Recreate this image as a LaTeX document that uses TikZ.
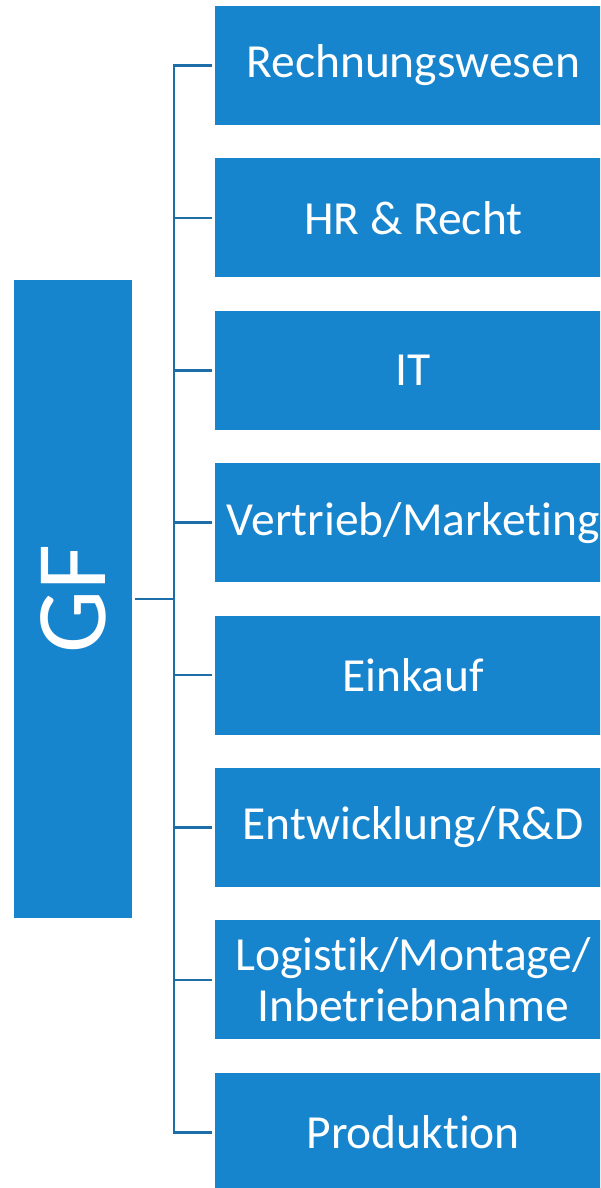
\documentclass[tikz,border=0pt]{standalone}
\usepackage{fontspec}
\setmainfont{Carlito}[Ligatures=NoCommon]
\usetikzlibrary{positioning}
\definecolor{orgblue}{HTML}{1784CE}
\definecolor{orgline}{HTML}{1C6DA8}

\begin{document}
\begin{tikzpicture}[x=1pt,y=1pt,
  unit/.style={fill=orgblue,text=white,font=\fontsize{47.5}{51}\selectfont,
    minimum width=396pt,minimum height=119pt,inner sep=0pt,
    align=center,anchor=west},
  head/.style={fill=orgblue,text=white,font=\fontsize{100}{110}\selectfont,
    minimum width=638pt,minimum height=118pt,inner sep=0pt,rotate=90},
  link/.style={draw=orgline,line width=2.5pt}]

  \useasboundingbox (0,0) rectangle (600,-1188);
  \clip (0,0) rectangle (600,-1188);

  % ---- Management (left) --------------------------------------
  \node[head] (gf) at (73,-599) {GF};

  % ---- Departments (right) ------------------------------------
  \foreach \name [count=\i] in {Rechnungswesen,HR \& Recht,IT,
      Vertrieb/Marketing,Einkauf,Entwicklung/R\&D,
      Logistik/Montage/\\Inbetriebnahme,Produktion}
    \node[unit] (d\i) at (215,{-65.5-152.4*(\i-1)}) {\name};

  % ---- Connectors ---------------------------------------------
  \coordinate (bus) at (174,-599);
  \draw[link,shorten <=3pt] (gf.south) -- (bus);
  \foreach \i in {1,...,8}
    \draw[link,shorten >=3pt] (bus) |- (d\i.west);

\end{tikzpicture}
\end{document}
